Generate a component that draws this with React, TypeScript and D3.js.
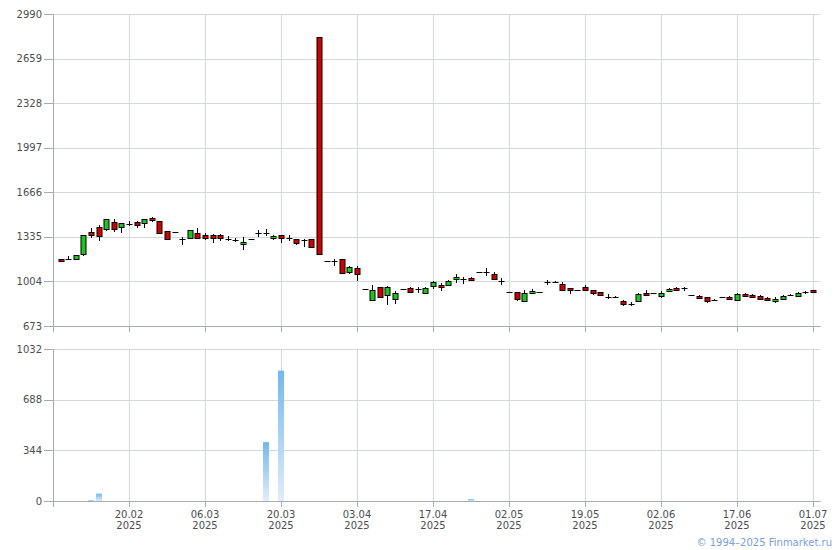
import React from "react";
import * as d3 from "d3";

// ---- data ----
const openV = [1170,1174,1173,1206,1369,1406,1391,1443,1411,1436,1443,1435,1475,1452,1376,1369,1322,1329,1361,1349,1349,1346,1327,1320,1280,1317,1361,1361,1325,1346,1330,1317,1313,1317,2820,1156,1157,1168,1074,1101,946,866,960,903,873,946,953,947,920,970,978,975,1020,1021,1030,1072,1073,1059,1009,923,923,861,916,928,999,1001,987,955,940,963,938,923,889,887,856,846,861,920,920,896,931,958,959,901,893,888,867,888,888,868,913,905,896,881,856,876,902,893,918,938];
const highV = [1172,1190,1200,1346,1403,1423,1465,1465,1440,1455,1452,1467,1485,1455,1378,1369,1336,1385,1398,1361,1356,1356,1341,1324,1334,1317,1383,1391,1349,1348,1349,1319,1317,1319,2820,1156,1168,1170,1119,1119,946,978,962,968,931,946,960,960,963,1005,990,1015,1059,1037,1037,1072,1101,1072,1027,923,925,940,946,928,1015,1010,1000,957,940,975,940,925,911,893,866,851,920,940,920,933,953,963,963,901,901,890,876,888,893,920,916,913,905,888,886,901,908,925,930,940];
const lowV = [1145,1160,1165,1193,1326,1307,1381,1369,1366,1416,1398,1398,1447,1361,1314,1369,1275,1327,1327,1312,1292,1307,1305,1300,1236,1317,1334,1341,1312,1292,1307,1277,1257,1253,1206,1156,1121,1064,1060,1010,946,858,889,829,837,946,918,918,918,946,933,973,995,983,1008,1072,1047,1013,978,923,860,858,908,928,978,990,940,913,940,930,901,901,871,881,824,824,859,898,920,881,925,933,933,901,871,846,856,888,866,862,895,880,866,858,846,868,893,888,913,921];
const closeV = [1152,1172,1198,1346,1351,1344,1465,1391,1435,1434,1425,1465,1458,1366,1321,1369,1319,1383,1329,1329,1329,1327,1316,1308,1300,1317,1360,1360,1340,1329,1328,1287,1311,1262,1206,1156,1155,1069,1109,1057,946,940,891,965,920,946,928,945,953,998,963,1008,1037,1019,1012,1072,1071,1020,1007,923,873,918,933,928,997,998,943,938,940,943,920,906,887,885,839,837,911,901,920,916,950,938,957,901,883,856,865,888,871,913,898,888,876,864,876,893,900,918,924,923];
const volumeV: number[] = (() => {
  const v = new Array(100).fill(0);
  v[4] = 7; v[5] = 50; v[27] = 400; v[29] = 885; v[54] = 13;
  return v;
})();
const priceTicks = [673, 1004, 1335, 1666, 1997, 2328, 2659, 2990];
const volTicks = [0, 344, 688, 1032];
const dateTickIdx = [9, 19, 29, 39, 49, 59, 69, 79, 89, 99];
const dateTickLabels = ["20.02", "06.03", "20.03", "03.04", "17.04", "02.05", "19.05", "02.06", "17.06", "01.07"];
const yearLabel = "2025";
const copyright = "© 1994–2025 Finmarket.ru";

export default function App() {
  const W = 840, H = 550;
  const left = 53, right = 820.6;
  const x = d3.scaleLinear().domain([-1, 100]).range([left, right]);
  const yP = d3.scaleLinear().domain([673, 2990]).range([326, 14]);
  const yV = d3.scaleLinear().domain([0, 1032]).range([501, 349]);
  const grid = "#d4d7db";
  const axis = "#a7aab1";
  const txt = "#4d4d4d";
  const font = "'DejaVu Sans', Verdana, sans-serif";
  const px = (v: number) => Math.round(v) + 0.5;

  const candles = openV.map((o, i) => ({ o, h: highV[i], l: lowV[i], c: closeV[i], i }));

  return (
    <svg width={W} height={H} style={{ position: "fixed", left: 0, top: 0, background: "#fff" }} fontFamily={font}>
      <defs>
        <linearGradient id="vg" x1="0" y1="0" x2="0" y2="1">
          <stop offset="0%" stopColor="#72b8ef" />
          <stop offset="100%" stopColor="#e2edf9" />
        </linearGradient>
      </defs>
      {/* price grid */}
      {priceTicks.map((t) => (
        <line key={"pg" + t} x1={left} x2={right} y1={px(yP(t))} y2={px(yP(t))} stroke={grid} />
      ))}
      {dateTickIdx.map((d) => (
        <line key={"pv" + d} x1={px(x(d))} x2={px(x(d))} y1={yP(2990)} y2={326} stroke={grid} />
      ))}
      {/* volume grid */}
      {volTicks.map((t) => (
        <line key={"vg" + t} x1={left} x2={right} y1={px(yV(t))} y2={px(yV(t))} stroke={grid} />
      ))}
      {dateTickIdx.map((d) => (
        <line key={"vv" + d} x1={px(x(d))} x2={px(x(d))} y1={yV(1032)} y2={501} stroke={grid} />
      ))}

      {/* candles */}
      {candles.map((d) => {
        const cx = px(x(d.i));
        const yo = yP(d.o), yc = yP(d.c), yh = yP(d.h), yl = yP(d.l);
        const top = Math.round(Math.min(yo, yc));
        const bot = Math.round(Math.max(yo, yc));
        const flat = bot - top < 2;
        const up = d.c > d.o;
        return (
          <g key={"c" + d.i}>
            {yl - yh >= 1 && <line x1={cx} x2={cx} y1={Math.round(yh)} y2={Math.round(yl)} stroke="#000" />}
            {flat ? (
              <line x1={cx - 3} x2={cx + 3} y1={px(yc)} y2={px(yc)} stroke="#000" />
            ) : (
              <rect x={cx - 2.5} y={top + 0.5} width={5} height={bot - top} fill={up ? "#1fc41f" : "#d00000"} stroke="#000" />
            )}
          </g>
        );
      })}

      {/* volume bars */}
      {volumeV.map((v, i) =>
        v > 0 ? (
          <rect key={"v" + i} x={Math.round(x(i)) - 3} y={yV(v)} width={6} height={yV(0) - yV(v)} fill="url(#vg)" />
        ) : null
      )}

      {/* price axes */}
      <line x1={px(left)} x2={px(left)} y1={14} y2={332} stroke={axis} />
      <line x1={left} x2={right} y1={px(326)} y2={px(326)} stroke={axis} />
      {dateTickIdx.map((d) => (
        <line key={"pt" + d} x1={px(x(d))} x2={px(x(d))} y1={326} y2={332} stroke={axis} />
      ))}
      {priceTicks.map((t) => (
        <g key={"pl" + t}>
          <line x1={44} x2={left} y1={px(yP(t))} y2={px(yP(t))} stroke={axis} />
          <text x={42} y={yP(t) + 3.5} textAnchor="end" fontSize={10} fill={txt}>{t}</text>
        </g>
      ))}

      {/* volume axes */}
      <line x1={px(left)} x2={px(left)} y1={349} y2={507} stroke={axis} />
      <line x1={left} x2={right} y1={px(501)} y2={px(501)} stroke={axis} />
      {dateTickIdx.map((d, k) => (
        <g key={"vt" + d}>
          <line x1={px(x(d))} x2={px(x(d))} y1={501} y2={507} stroke={axis} />
          <text x={x(d)} y={517.5} textAnchor="middle" fontSize={10} fill={txt}>{dateTickLabels[k]}</text>
          <text x={x(d)} y={528.5} textAnchor="middle" fontSize={10} fill={txt}>{yearLabel}</text>
        </g>
      ))}
      {volTicks.map((t) => (
        <g key={"vl" + t}>
          <line x1={44} x2={left} y1={px(yV(t))} y2={px(yV(t))} stroke={axis} />
          <text x={42} y={yV(t) + 3.5} textAnchor="end" fontSize={10} fill={txt}>{t}</text>
        </g>
      ))}

      <text x={832} y={545.5} textAnchor="end" fontSize={10} fill="#7c9ee0">{copyright}</text>
    </svg>
  );
}
